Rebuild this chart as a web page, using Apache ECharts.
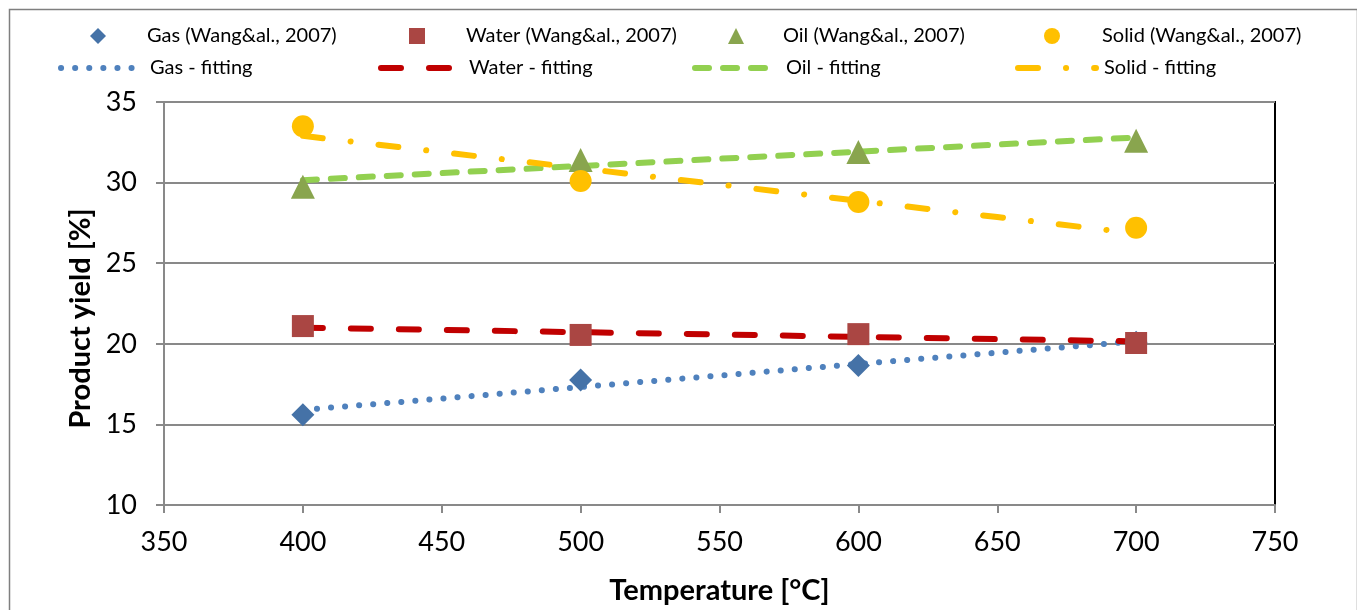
<!DOCTYPE html>
<html>
<head>
<meta charset="utf-8">
<script src="https://cdn.jsdelivr.net/npm/echarts@6/dist/echarts.min.js"></script>
<style>
html,body{margin:0;padding:0;background:#fff;}
#c{width:1357px;height:610px;}
</style>
</head>
<body>
<div id="c"></div>
<script>
// ---- data ----
const temps = [400, 500, 600, 700];
const gasExp = [15.6, 17.75, 18.65, 20.1];
const waterExp = [21.1, 20.55, 20.6, 20.05];
const oilExp = [29.75, 31.4, 31.9, 32.6];
const solidExp = [33.5, 30.1, 28.8, 27.2];

const fitTemps = [400, 450, 500, 550, 600, 650, 700];
const gasFit = [15.9, 16.6, 17.32, 18.03, 18.75, 19.45, 20.15];
const waterFit = [21.0, 20.86, 20.72, 20.58, 20.43, 20.29, 20.15];
const oilFit = [30.15, 30.59, 31.03, 31.48, 31.92, 32.36, 32.8];
const solidFit = [32.9, 31.89, 30.89, 29.88, 28.87, 27.86, 26.85];

const xTicks = {min: 350, max: 750, step: 50};
const yTicks = {min: 10, max: 35, step: 5};

const names = {
  gasExp: 'Gas (Wang&al., 2007)', waterExp: 'Water (Wang&al., 2007)',
  oilExp: 'Oil (Wang&al., 2007)', solidExp: 'Solid (Wang&al., 2007)',
  gasFit: 'Gas - fitting', waterFit: 'Water - fitting',
  oilFit: 'Oil - fitting', solidFit: 'Solid - fitting'
};

function pairs(xs, ys) { return xs.map((x, i) => [x, ys[i]]); }

const FONT = 'Lato';
const gray = '#898989';

function fitSeries(name, ys, color, dash) {
  return {
    name: name, type: 'line', data: pairs(fitTemps, ys),
    symbol: 'none', smooth: false, z: 2,
    lineStyle: {color: color, width: 6, type: dash, cap: 'round', join: 'round'},
    itemStyle: {color: color}
  };
}
function expSeries(name, ys, color, symbol, size) {
  return {
    name: name, type: 'scatter', data: pairs(temps, ys),
    symbol: symbol, symbolSize: size, z: 5,
    itemStyle: {color: color, opacity: 1}
  };
}

const LFS = 20;
const baseLegend = {
  orient: 'horizontal', itemGap: 0, padding: 0
};
function scatterLegend(name, left, top, pad) {
  return Object.assign({}, baseLegend, {
    data: [name], left: left, top: top, itemWidth: 16, itemHeight: 16,
    textStyle: {fontFamily: FONT, fontSize: LFS, color: '#000', padding: [0, 0, 0, pad]}
  });
}
function lineLegend(name, left, width, top, pad) {
  return Object.assign({}, baseLegend, {
    data: [name], left: left, top: top, itemWidth: width, itemHeight: 14,
    itemStyle: {opacity: 0},
    lineStyle: {width: 6, cap: 'round'},
    textStyle: {fontFamily: FONT, fontSize: LFS, color: '#000', padding: [0, 0, 0, pad]}
  });
}

const chart = echarts.init(document.getElementById('c'), null, {renderer: 'canvas'});
chart.setOption({
  animation: false,
  backgroundColor: '#fff',
  graphic: [{
    type: 'rect', left: 7, top: 7, z: 100, silent: true,
    shape: {width: 1348, height: 640},
    style: {fill: 'none', stroke: '#7f7f7f', lineWidth: 1.5}
  }],
  legend: [
    scatterLegend(names.gasExp, 90, 26, 36),
    scatterLegend(names.waterExp, 409, 26, 36),
    scatterLegend(names.oilExp, 728, 26, 34),
    scatterLegend(names.solidExp, 1044, 26, 37),
    lineLegend(names.gasFit, 58, 71, 58, 13),
    lineLegend(names.waterFit, 378, 68, 58, 15),
    lineLegend(names.oilFit, 692, 70, 58, 16),
    lineLegend(names.solidFit, 1015, 78, 58, 3)
  ],
  grid: {
    left: 164, right: 82, top: 102, bottom: 104,
    show: true, borderColor: '#000', borderWidth: 2, backgroundColor: 'transparent'
  },
  xAxis: {
    type: 'value', min: xTicks.min, max: xTicks.max, interval: xTicks.step,
    name: 'Temperature [°C]', nameLocation: 'middle', nameGap: 71,
    nameTextStyle: {fontFamily: FONT, fontSize: 29, fontWeight: 'bold', color: '#000'},
    axisLine: {show: true, lineStyle: {color: gray, width: 2}},
    axisTick: {show: true, inside: false, length: 8, lineStyle: {color: gray, width: 2}},
    axisLabel: {fontFamily: FONT, fontSize: 27, color: '#000', margin: 24},
    splitLine: {show: false}
  },
  yAxis: {
    type: 'value', min: yTicks.min, max: yTicks.max, interval: yTicks.step,
    name: 'Product yield [%]', nameLocation: 'middle', nameGap: 67,
    nameTextStyle: {fontFamily: FONT, fontSize: 29, fontWeight: 'bold', color: '#000', padding: [0, 30, 0, 0]},
    axisLine: {show: true, lineStyle: {color: gray, width: 2}},
    axisTick: {show: true, inside: false, length: 8, lineStyle: {color: gray, width: 2}},
    axisLabel: {fontFamily: FONT, fontSize: 27, color: '#000', margin: 27},
    splitLine: {show: true, lineStyle: {color: gray, width: 2}}
  },
  series: [
    fitSeries(names.gasFit, gasFit, '#4F81BD', [0.1, 14]),
    fitSeries(names.waterFit, waterFit, '#C00000', [20, 28]),
    fitSeries(names.oilFit, oilFit, '#92D050', [14, 14]),
    fitSeries(names.solidFit, solidFit, '#FFC000', [20, 28, 0.1, 28]),
    expSeries(names.gasExp, gasExp, '#4572A7', 'diamond', 23),
    expSeries(names.waterExp, waterExp, '#AA4643', 'rect', 22),
    expSeries(names.oilExp, oilExp, '#89A54E', 'triangle', 24),
    expSeries(names.solidExp, solidExp, '#FFC000', 'circle', 22)
  ]
});
</script>
</body>
</html>
